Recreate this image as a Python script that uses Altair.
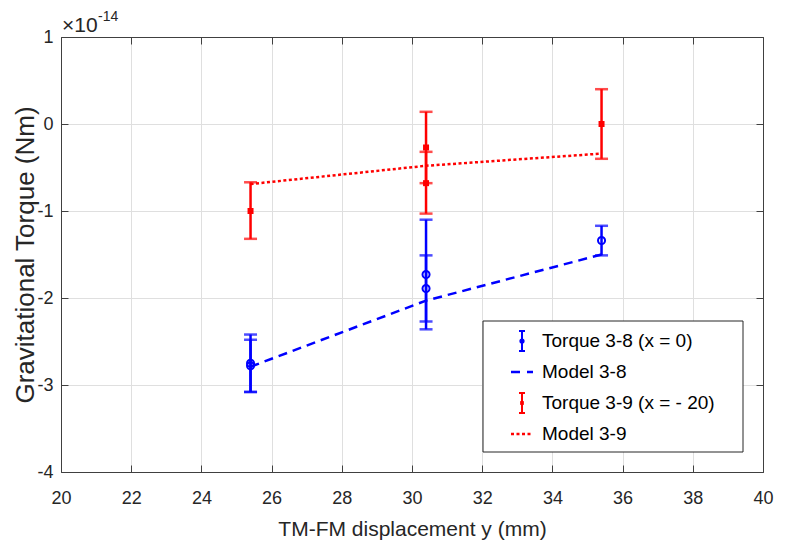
import altair as alt
import pandas as pd

# ---- data (torque in units of 1e-14 N·m, displacement in mm) ----
t38_x = [25.4, 25.4, 30.4, 30.4, 35.4]
t38_val = [-2.75, -2.78, -1.73, -1.89, -1.34]
t38_low = [-3.08, -3.08, -2.36, -2.27, -1.51]
t38_high = [-2.42, -2.48, -1.10, -1.51, -1.17]

t39_x = [25.4, 30.4, 30.4, 35.4]
t39_val = [-1.00, -0.27, -0.68, 0.00]
t39_low = [-1.32, -0.68, -1.03, -0.40]
t39_high = [-0.67, 0.14, -0.32, 0.40]

m38_x = [25.4, 30.4, 35.4]
m38_val = [-2.79, -2.03, -1.50]
m39_x = [25.4, 30.4, 35.4]
m39_val = [-0.69, -0.48, -0.34]

x_ticks = [20, 22, 24, 26, 28, 30, 32, 34, 36, 38, 40]
y_ticks = [-4, -3, -2, -1, 0, 1]
legend_labels = ["Torque 3-8 (x = 0)", "Model 3-8", "Torque 3-9 (x = - 20)", "Model 3-9"]
x_title = "TM-FM displacement y (mm)"
y_title = "Gravitational Torque (Nm)"
exp_base = "×10"
exp_power = "-14"

BLUE = "#0000ff"
RED = "#ff0000"
FONT = "Liberation Sans"
AX = "#404040"

t38 = pd.DataFrame({"x": t38_x, "v": t38_val, "lo": t38_low, "hi": t38_high})
t39 = pd.DataFrame({"x": t39_x, "v": t39_val, "lo": t39_low, "hi": t39_high})
m38 = pd.DataFrame({"x": m38_x, "v": m38_val})
m39 = pd.DataFrame({"x": m39_x, "v": m39_val})

xs = alt.Scale(domain=[20, 40], nice=False, zero=False)
ys = alt.Scale(domain=[-4, 1], nice=False, zero=False)
INWARD = alt.ExprRef(expr="-7")

x_axis = alt.Axis(values=x_ticks, title=x_title, labelFontSize=18, titleFontSize=21,
                  tickSize=INWARD, labelPadding=24, labelFlush=False,
                  titleY=57, titleBaseline="middle", grid=True)
y_axis = alt.Axis(values=y_ticks, title=y_title, labelFontSize=18, titleFontSize=26,
                  tickSize=INWARD, labelPadding=15, labelFlush=False,
                  labelExpr="'' + datum.value",
                  titleX=-28, titleY=217.5, titleBaseline="alphabetic", titleAlign="center",
                  grid=True)

X = alt.X("x:Q", scale=xs, axis=x_axis)


def Y(field):
    return alt.Y(f"{field}:Q", scale=ys, axis=y_axis)


def series_layers(df, color, shape, filled, psize):
    bars = alt.Chart(df).mark_rule(color=color, strokeWidth=2.5).encode(x=X, y=Y("lo"), y2="hi")
    cap_lo = alt.Chart(df).mark_tick(color=color, orient="horizontal", size=13, thickness=2.5).encode(x=X, y=Y("lo"))
    cap_hi = alt.Chart(df).mark_tick(color=color, orient="horizontal", size=13, thickness=2.5).encode(x=X, y=Y("hi"))
    pts = alt.Chart(df).mark_point(shape=shape, filled=filled, size=psize, strokeWidth=2,
                                   color=color, opacity=1).encode(x=X, y=Y("v"))
    return [bars, cap_lo, cap_hi, pts]


line38 = alt.Chart(m38).mark_line(color=BLUE, strokeDash=[9, 6], strokeWidth=2.5).encode(x=X, y=Y("v"))
line39 = alt.Chart(m39).mark_line(color=RED, strokeDash=[3, 2.5], strokeWidth=2.5).encode(x=X, y=Y("v"))

data_layers = (series_layers(t38, BLUE, "circle", False, 50) + [line38]
               + series_layers(t39, RED, "square", True, 36) + [line39])

# ---- legend box (drawn in pixel space) ----
one = pd.DataFrame({"k": [0]})
leg = [alt.Chart(one).mark_rect(fill="white", stroke="#262626", strokeWidth=1).encode(
    x=alt.value(422), x2=alt.value(682), y=alt.value(284), y2=alt.value(415))]

leg_y = [304, 335, 366, 397]
sym_x = 461


def leg_err(yc, color, shape, filled):
    return [
        alt.Chart(one).mark_rule(color=color, strokeWidth=2).encode(
            x=alt.value(sym_x), y=alt.value(yc - 10), y2=alt.value(yc + 10)),
        alt.Chart(one).mark_rule(color=color, strokeWidth=2).encode(
            x=alt.value(sym_x - 3), x2=alt.value(sym_x + 3), y=alt.value(yc - 10)),
        alt.Chart(one).mark_rule(color=color, strokeWidth=2).encode(
            x=alt.value(sym_x - 3), x2=alt.value(sym_x + 3), y=alt.value(yc + 10)),
        alt.Chart(one).mark_point(shape=shape, filled=filled, size=14, strokeWidth=1.5,
                                  color=color, opacity=1).encode(x=alt.value(sym_x), y=alt.value(yc)),
    ]


def leg_line(yc, color, dash):
    return [alt.Chart(one).mark_rule(color=color, strokeWidth=2.5, strokeDash=dash).encode(
        x=alt.value(sym_x - 11), x2=alt.value(sym_x + 11), y=alt.value(yc))]


leg += leg_err(leg_y[0], BLUE, "circle", False)
leg += leg_line(leg_y[1], BLUE, [9, 7])
leg += leg_err(leg_y[2], RED, "square", True)
leg += leg_line(leg_y[3], RED, [3, 2.5])
for yc, lbl in zip(leg_y, legend_labels):
    leg.append(alt.Chart(pd.DataFrame({"label": [lbl]})).mark_text(
        align="left", baseline="middle", font=FONT, fontSize=19, color="black").encode(
        x=alt.value(481), y=alt.value(yc), text="label:N"))

# ---- exponent label ----
expo = [
    alt.Chart(one).mark_text(align="left", baseline="alphabetic", font=FONT, fontSize=21,
                             color="#262626").encode(x=alt.value(1), y=alt.value(-5), text=alt.value(exp_base)),
    alt.Chart(one).mark_text(align="left", baseline="alphabetic", font=FONT, fontSize=14,
                             color="#262626").encode(x=alt.value(37), y=alt.value(-16), text=alt.value(exp_power)),
]

inner = alt.layer(*(data_layers + leg + expo))

top_axis = alt.Axis(orient="top", values=x_ticks, labels=False, title=None, grid=False,
                    tickSize=INWARD, domain=True)
right_axis = alt.Axis(orient="right", values=y_ticks, labels=False, title=None, grid=False,
                      tickSize=INWARD, domain=True)
dummy = alt.Chart(m38).mark_point(opacity=0).encode(
    x=alt.X("x:Q", scale=xs, axis=top_axis),
    y=alt.Y("v:Q", scale=ys, axis=right_axis))

chart = alt.layer(inner, dummy).resolve_axis(x="independent", y="independent").properties(
    width=702, height=435,
    autosize=alt.AutoSizeParams(type="none"),
    padding={"left": 53, "top": 29, "right": 15, "bottom": 70},
).configure_view(stroke=None).configure_axis(
    domainColor=AX, tickColor=AX, domainWidth=1, tickWidth=1,
    labelColor="#262626", titleColor="#262626",
    labelFont=FONT, titleFont=FONT, titleFontWeight="normal",
    gridColor="#dfdfdf", gridWidth=1,
)

chart.save("out.html", embed_options={"renderer": "svg", "actions": False})
